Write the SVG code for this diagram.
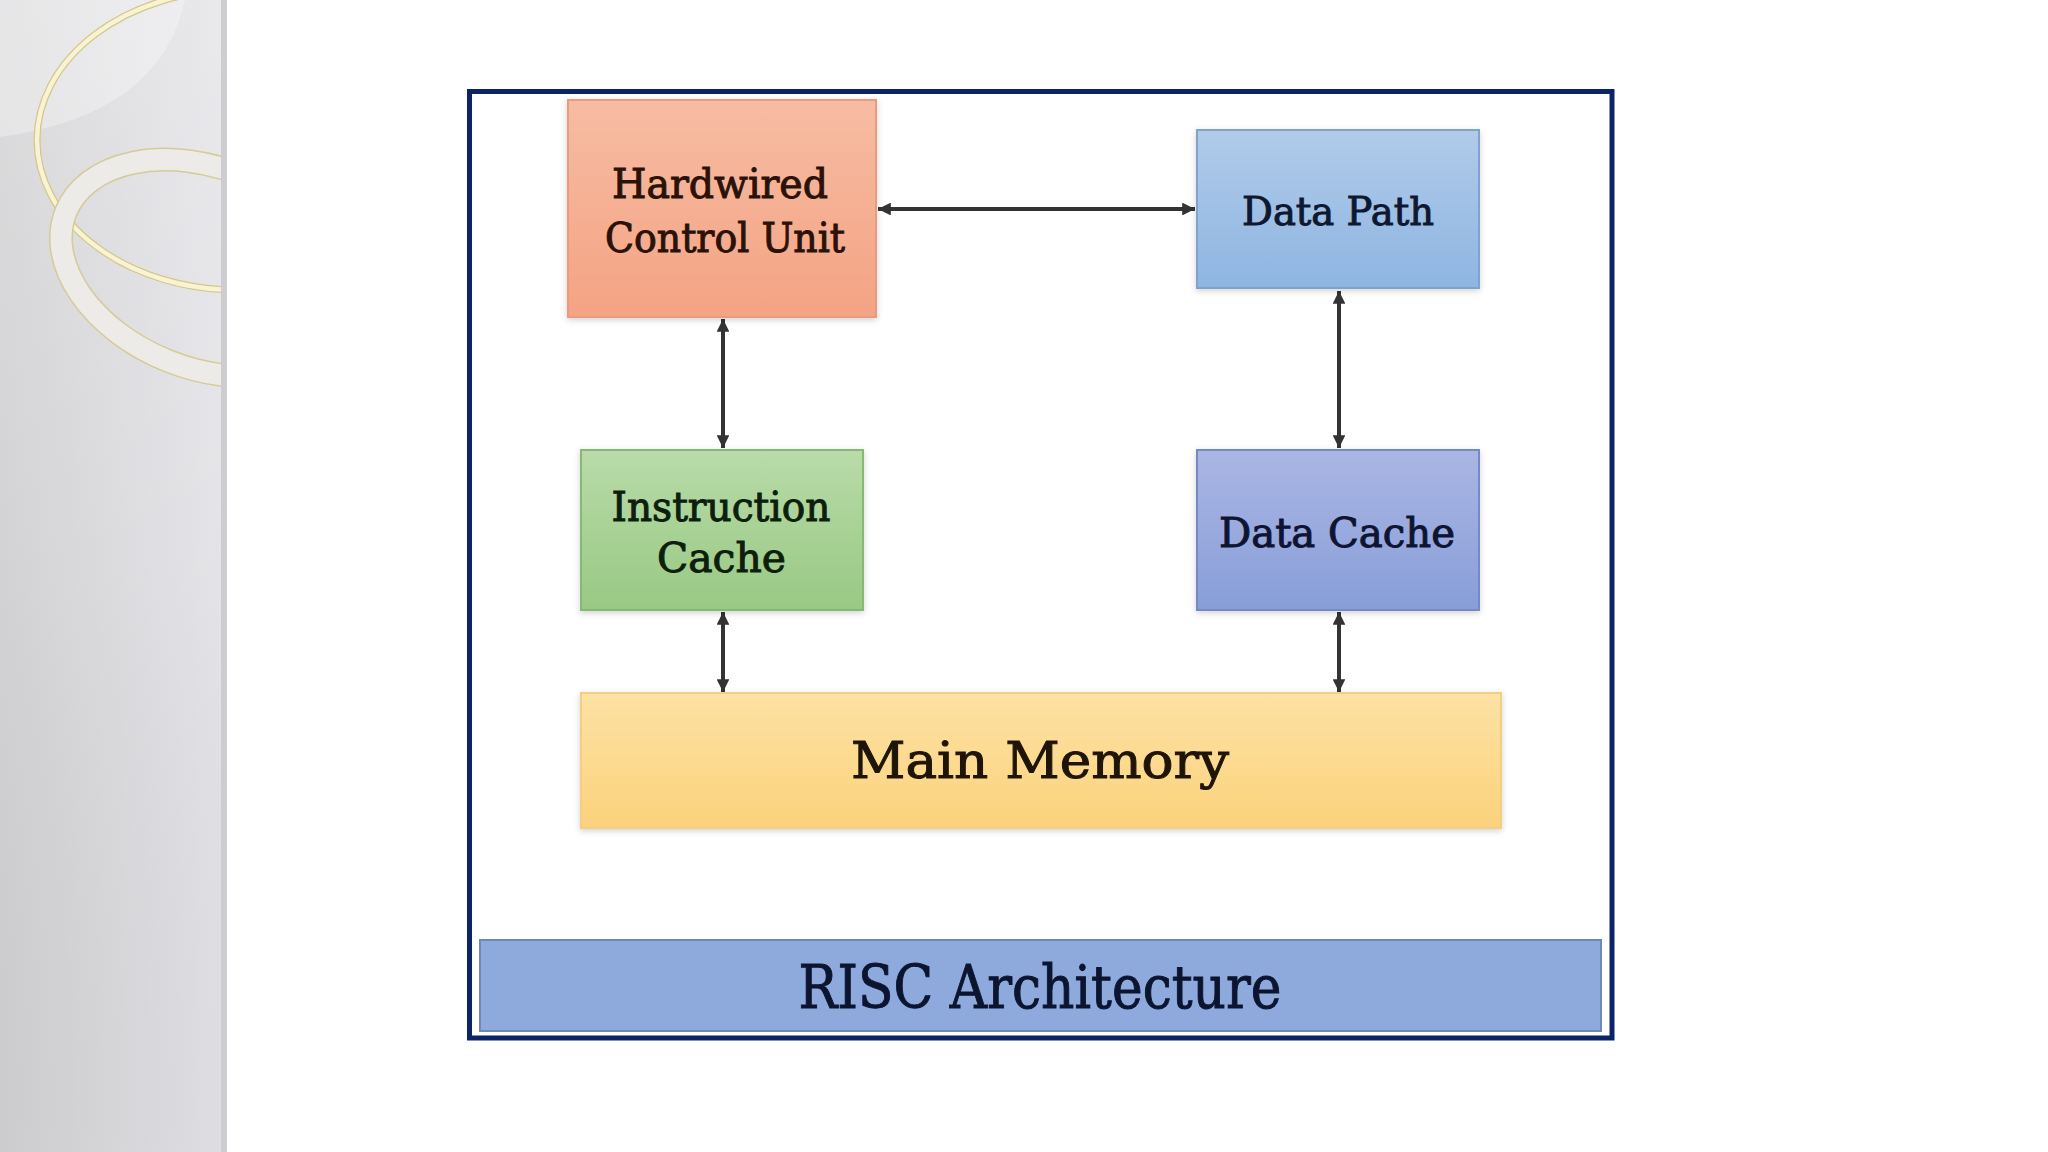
<svg xmlns="http://www.w3.org/2000/svg" width="2048" height="1152" viewBox="0 0 2048 1152">
  <style>
    .lbl { font-family: "DejaVu Serif", "Liberation Serif", serif; text-anchor: middle; stroke-width: 1; }
    .box { stroke-width: 2; }
    .conn { stroke: #333333; stroke-width: 4; fill: none; marker-start: url(#ah); marker-end: url(#ah); }
  </style>
  <defs>
    <linearGradient id="panelH" x1="0" y1="0" x2="1" y2="0">
      <stop offset="0" stop-color="#d0d0d2"/>
      <stop offset="0.8" stop-color="#dfdee2"/>
      <stop offset="1" stop-color="#e3e2e6"/>
    </linearGradient>
    <linearGradient id="panelV" x1="0" y1="0" x2="0" y2="1">
      <stop offset="0" stop-color="#ffffff" stop-opacity="0.25"/>
      <stop offset="0.5" stop-color="#ffffff" stop-opacity="0.05"/>
      <stop offset="1" stop-color="#000000" stop-opacity="0.02"/>
    </linearGradient>
    <clipPath id="panelClip"><rect x="0" y="0" width="221" height="1152"/></clipPath>
    <linearGradient id="gHCU" x1="0" y1="0" x2="0" y2="1">
      <stop offset="0" stop-color="#f7bca3"/>
      <stop offset="1" stop-color="#f4a383"/>
    </linearGradient>
    <linearGradient id="gDP" x1="0" y1="0" x2="0" y2="1">
      <stop offset="0" stop-color="#b1cbe9"/>
      <stop offset="1" stop-color="#8eb5e2"/>
    </linearGradient>
    <linearGradient id="gIC" x1="0" y1="0" x2="0" y2="1">
      <stop offset="0" stop-color="#b9dba9"/>
      <stop offset="1" stop-color="#98c983"/>
    </linearGradient>
    <linearGradient id="gDC" x1="0" y1="0" x2="0" y2="1">
      <stop offset="0" stop-color="#aab6e4"/>
      <stop offset="1" stop-color="#889ed8"/>
    </linearGradient>
    <linearGradient id="gMM" x1="0" y1="0" x2="0" y2="1">
      <stop offset="0" stop-color="#fde2a4"/>
      <stop offset="1" stop-color="#fbd27c"/>
    </linearGradient>
    <filter id="sh" x="-5%" y="-5%" width="110%" height="115%">
      <feDropShadow dx="0" dy="2" stdDeviation="3" flood-color="#000000" flood-opacity="0.18"/>
    </filter>
    <marker id="ah" viewBox="0 0 10 10" refX="10" refY="5" markerWidth="3.4" markerHeight="3.2" orient="auto-start-reverse" markerUnits="strokeWidth">
      <path d="M0,0 L10,5 L0,10 Z" fill="#333333"/>
    </marker>
  </defs>

  <!-- page background -->
  <rect x="0" y="0" width="2048" height="1152" fill="#ffffff"/>

  <!-- left decorative panel -->
  <g id="panel">
    <rect x="0" y="0" width="227" height="1152" fill="url(#panelH)"/>
    <rect x="0" y="0" width="227" height="1152" fill="url(#panelV)"/>
    <g clip-path="url(#panelClip)">
      <path d="M0,0 L185,0 Q160,115 0,137 Z" fill="#ffffff" fill-opacity="0.3"/>
      <ellipse cx="237" cy="140" rx="200" ry="150" fill="none" stroke="#d3c888" stroke-width="7"/>
      <ellipse cx="237" cy="140" rx="200" ry="150" fill="none" stroke="#f7f3d4" stroke-width="4.5"/>
      <g transform="rotate(22 205 268)">
        <ellipse cx="205" cy="268" rx="150" ry="100" fill="none" stroke="#d4cb96" stroke-width="24"/>
        <ellipse cx="205" cy="268" rx="150" ry="100" fill="none" stroke="#ecebe7" stroke-width="21"/>
      </g>
    </g>
    <rect x="221" y="0" width="6" height="1152" fill="#cdccd0"/>
  </g>

  <!-- outer frame -->
  <rect id="frame" x="469.5" y="91.5" width="1142.5" height="946.5" fill="#ffffff" stroke="#0b2468" stroke-width="5"/>

  <!-- connectors -->
  <g id="connectors">
    <line class="conn" x1="878" y1="209" x2="1195" y2="209"/>
    <line class="conn" x1="723" y1="319" x2="723" y2="448"/>
    <line class="conn" x1="723" y1="612" x2="723" y2="692"/>
    <line class="conn" x1="1339" y1="291" x2="1339" y2="448"/>
    <line class="conn" x1="1339" y1="612" x2="1339" y2="692"/>
  </g>

  <!-- nodes -->
  <g id="hcu">
    <rect class="box" x="568" y="100" width="308" height="217" fill="url(#gHCU)" stroke="#e79d7d" filter="url(#sh)"/>
    <text class="lbl" x="720" y="198" font-size="41" fill="#2a1208" stroke="#2a1208" textLength="216" lengthAdjust="spacingAndGlyphs">Hardwired</text>
    <text class="lbl" x="725" y="252" font-size="41" fill="#2a1208" stroke="#2a1208" textLength="240" lengthAdjust="spacingAndGlyphs">Control Unit</text>
  </g>

  <g id="datapath">
    <rect class="box" x="1197" y="130" width="282" height="158" fill="url(#gDP)" stroke="#80a3cd" filter="url(#sh)"/>
    <text class="lbl" x="1338" y="225" font-size="40" fill="#0e1830" stroke="#0e1830" textLength="192" lengthAdjust="spacingAndGlyphs">Data Path</text>
  </g>

  <g id="icache">
    <rect class="box" x="581" y="450" width="282" height="160" fill="url(#gIC)" stroke="#88b874" filter="url(#sh)"/>
    <text class="lbl" x="721" y="521" font-size="41" fill="#0d1f0c" stroke="#0d1f0c" textLength="219" lengthAdjust="spacingAndGlyphs">Instruction</text>
    <text class="lbl" x="721.5" y="572" font-size="41" fill="#0d1f0c" stroke="#0d1f0c" textLength="129" lengthAdjust="spacingAndGlyphs">Cache</text>
  </g>

  <g id="dcache">
    <rect class="box" x="1197" y="450" width="282" height="160" fill="url(#gDC)" stroke="#7689c2" filter="url(#sh)"/>
    <text class="lbl" x="1337" y="547" font-size="41" fill="#0e1432" stroke="#0e1432" textLength="236" lengthAdjust="spacingAndGlyphs">Data Cache</text>
  </g>

  <g id="mainmem">
    <rect class="box" x="581" y="693" width="920" height="135" fill="url(#gMM)" stroke="#f3cf86" filter="url(#sh)"/>
    <text class="lbl" x="1040" y="778" font-size="50" fill="#1e1408" stroke="#1e1408" stroke-width="1.3" textLength="378" lengthAdjust="spacingAndGlyphs">Main Memory</text>
  </g>

  <g id="risc">
    <rect x="480" y="940" width="1121" height="91" fill="#8eaadd" stroke="#6d88bf" stroke-width="2"/>
    <text class="lbl" x="1040" y="1008" font-size="59" fill="#0c1530" stroke="#0c1530" stroke-width="1.6" textLength="483" lengthAdjust="spacingAndGlyphs">RISC Architecture</text>
  </g>
</svg>
